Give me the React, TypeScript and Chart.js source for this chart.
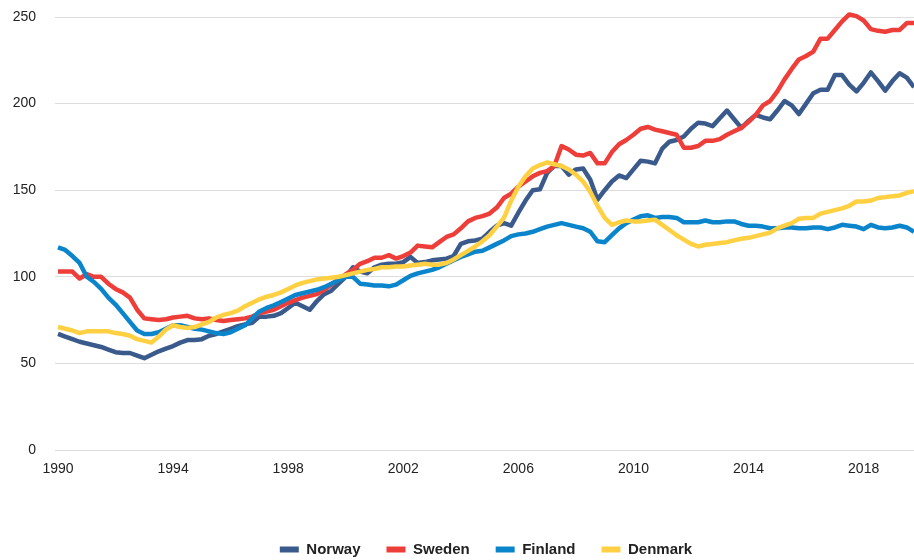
import React, { useEffect, useRef } from "react";
import { Chart, registerables } from "chart.js";

Chart.register(...registerables);

// Quarterly categories 1990Q1 – 2019Q4
const years: number[] = [];
for (let y = 1990; y <= 2019; y++) years.push(y);
const categories: string[] = [];
years.forEach((y) => {
  ["Q1", "Q2", "Q3", "Q4"].forEach((q) => categories.push(`${y}${q}`));
});

const xTickLabels = ["1990", "1994", "1998", "2002", "2006", "2010", "2014", "2018"];
const yTicks = [0, 50, 100, 150, 200, 250];

const norway = [
  67, 65.5, 64, 62.5, 61.5, 60.5, 59.5, 58, 56.5, 56, 56, 54.5, 53, 55, 57, 58.5, 60,
  62, 63.5, 63.5, 64, 66, 67, 68.5, 70, 71.5, 72.5, 73.5, 77, 77, 77.5, 79, 82, 85,
  83, 81, 86, 90, 92, 96, 100, 105.5, 103, 102, 105.5, 107, 107.5, 107.5, 108.5, 111.5,
  108, 108.5, 109.5, 110, 110.5, 112, 119, 120.5, 121, 122, 126, 129.5, 131, 129.5, 137, 144,
  150, 150.5, 160, 164, 164, 159, 162, 162.5, 156, 144.5, 150, 155, 158.5, 157, 162, 167,
  166.5, 165.5, 174, 178, 179, 181, 185.5, 189, 188.5, 187, 191.5, 196, 191, 186, 190, 193.5,
  192, 191, 196, 201.5, 199, 194, 200, 206, 208, 208, 216.5, 216.5, 211, 207, 212, 218, 213, 207.5, 213, 217.5, 215, 209.5,
];

const sweden = [
  103, 103, 103, 99, 101.5, 100, 100, 96, 93, 91, 88, 81, 76, 75.5, 75, 75.5, 76.5,
  77, 77.5, 76, 75.5, 76, 75, 74.5, 75, 75.5, 76, 77, 79, 80, 81, 83, 85, 86.5,
  88, 89, 90, 92.5, 95.5, 98.5, 101.5, 104, 107.5, 109, 111, 111, 112.5, 110.5, 112, 114,
  118, 117.5, 117, 120, 123, 124.5, 128, 132, 134, 135, 136.5, 140, 145.5, 148, 152, 155,
  158, 160, 161, 164, 175.5, 173.5, 170.5, 170, 171.5, 165.5, 165.5, 172, 176.5, 179, 182, 185.5,
  186.5, 185, 184, 183, 182, 174.5, 174.5, 175.5, 178.5, 178.5, 179.5, 182, 184, 186, 189.5, 193.5,
  199, 201.5, 207, 214, 220, 225.5, 227.5, 230, 237.5, 237.5, 242.5, 247.5, 251.5, 250.5, 248, 243, 242, 241.5, 242.5, 242.5, 246.5, 246.5,
];

const finland = [
  117, 115.5, 112, 108, 100, 97, 93, 88, 84, 79, 74, 69, 67, 67, 68, 70, 72,
  72, 71, 70, 69.5, 68.5, 67.5, 67, 68, 70, 72, 76, 80, 82, 83.5, 85.5, 87.5, 89.5,
  90.5, 91.5, 92.5, 94, 96, 98, 100, 100, 96, 95.5, 95, 95, 94.5, 95.5, 98, 100.5,
  102, 103, 104, 105.5, 107.5, 109.5, 111.5, 113, 114.5, 115, 117, 119, 121, 123.5, 124.5, 125,
  126, 127.5, 129, 130, 131, 130, 129, 128, 126, 120.5, 120, 124, 128, 131, 133, 135,
  135.5, 134, 134.5, 134.5, 134, 131.5, 131.5, 131.5, 132.5, 131.5, 131.5, 132, 132, 130.5, 129.5, 129.5,
  129, 128, 128, 128.5, 128.5, 128, 128, 128.5, 128.5, 127.5, 128.5, 130, 129.5, 129, 127.5, 130, 128.5, 128, 128.5, 129.5, 128.5, 126,
];

const denmark = [
  71, 70, 69, 67.5, 68.5, 68.5, 68.5, 68.5, 67.5, 67, 66, 64, 63, 62, 65.5, 69.5, 72,
  71, 70.5, 71, 72.5, 74, 76.5, 78, 79, 80.5, 83, 85, 87, 88.5, 89.5, 91, 93, 95,
  96.5, 97.5, 98.5, 99, 99.5, 100, 101, 102, 103, 104, 104.5, 105.5, 105.5, 106, 106, 106.5,
  107, 107.5, 107, 107, 108, 110, 112.5, 115, 117.5, 120.5, 124, 129, 134, 144, 152, 158,
  162.5, 164.5, 166, 165, 164, 162, 159, 155, 149, 141, 134, 130, 131.5, 132.5, 132, 132,
  132.5, 133, 130, 127, 124, 121.5, 119, 117.5, 118.5, 119, 119.5, 120, 121, 122, 122.5, 123.5,
  124.5, 125.5, 128, 129.5, 131, 133.5, 134, 134, 136.5, 137.5, 138.5, 139.5, 141, 143.5, 143.5, 144, 145.5, 146, 146.5, 147, 148.5, 149.5,
];

const seriesNames = ["Norway", "Sweden", "Finland", "Denmark"];
const seriesColors = ["#3A5A8C", "#EE3E3A", "#0A85CC", "#FFD042"];

const FONT = "'Liberation Sans', Arial, Helvetica, sans-serif";

export default function App() {
  const canvasRef = useRef<HTMLCanvasElement | null>(null);

  useEffect(() => {
    document.body.style.margin = "0";
    const canvas = canvasRef.current;
    if (!canvas) return;
    const values = [norway, sweden, finland, denmark];
    const chart = new Chart(canvas, {
      type: "line",
      data: {
        labels: categories,
        datasets: values.map((v, i) => ({
          label: seriesNames[i],
          data: v,
          borderColor: seriesColors[i],
          backgroundColor: seriesColors[i],
          borderWidth: 4.5,
          pointRadius: 0,
          pointHoverRadius: 0,
          tension: 0,
          fill: false,
          clip: 10,
          borderJoinStyle: "round" as const,
          order: 4 - i,
        })),
      },
      options: {
        responsive: false,
        animation: false,
        layout: { padding: { top: 17, left: 0, right: 0, bottom: 0 } },
        plugins: {
          tooltip: { enabled: false },
          legend: {
            position: "bottom",
            fullSize: false,
            maxHeight: 44,
            labels: {
              boxWidth: 19,
              boxHeight: 6,
              padding: 26,
              color: "#222",
              font: { family: FONT, size: 15, weight: "bold" },
              sort: (a: any, b: any) => a.datasetIndex - b.datasetIndex,
              generateLabels: (ch: any) =>
                Chart.defaults.plugins.legend.labels
                  .generateLabels(ch)
                  .map((l: any) => ({ ...l, lineWidth: 0 })),
            },
          },
        },
        scales: {
          x: {
            type: "category",
            grid: { display: false },
            border: { display: false },
            ticks: {
              autoSkip: false,
              maxRotation: 0,
              minRotation: 0,
              padding: 3,
              color: "#222",
              font: { family: FONT, size: 14 },
              callback: (_v: any, index: number) =>
                index % 16 === 0 ? xTickLabels[index / 16] : null,
            },
            afterFit: (scale: any) => {
              scale.height = 66;
            },
          },
          y: {
            min: 0,
            max: 250,
            afterBuildTicks: (scale: any) => {
              scale.ticks = yTicks.map((v) => ({ value: v }));
            },
            grid: { color: "#DDDDDD", lineWidth: 1, tickLength: 3, drawTicks: true },
            border: { display: false },
            ticks: {
              padding: 19,
              color: "#222",
              font: { family: FONT, size: 14 },
            },
            afterFit: (scale: any) => {
              scale.width = 58;
              scale.paddingTop = 8;
              scale.paddingBottom = 8;
            },
          },
        },
      },
    });
    return () => chart.destroy();
  }, []);

  return (
    <div style={{ position: "fixed", left: 0, top: 0, width: 914, height: 560, background: "#fff" }}>
      <canvas ref={canvasRef} width={914} height={560} />
    </div>
  );
}
